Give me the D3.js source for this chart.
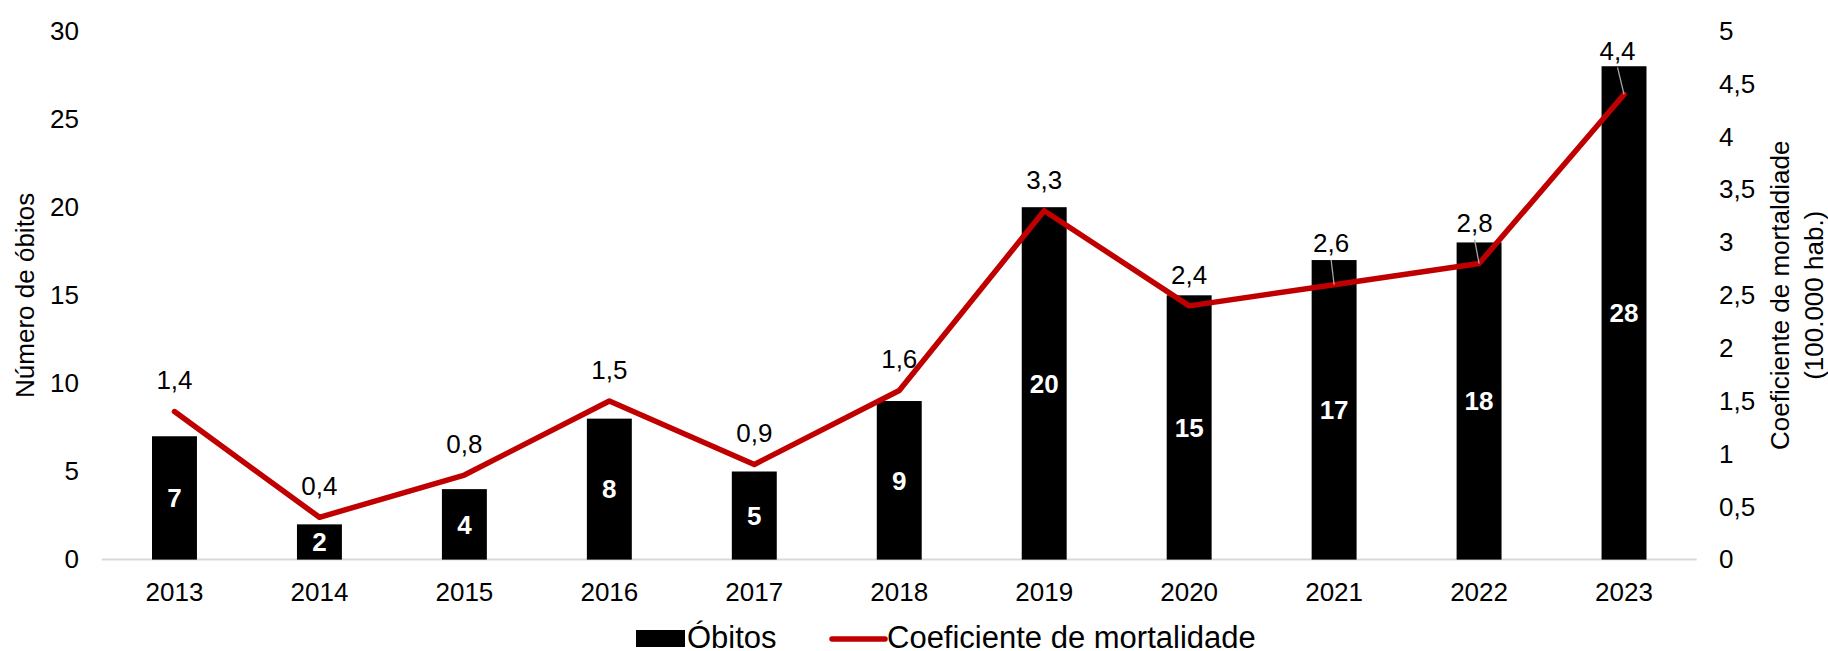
<!DOCTYPE html>
<html>
<head>
<meta charset="utf-8">
<script src="https://cdn.jsdelivr.net/npm/d3@7"></script>
<style>
  html, body { margin: 0; padding: 0; background: #fff; }
  svg { display: block; font-family: "Liberation Sans", Arial, sans-serif; }
</style>
</head>
<body>
<svg id="chart" width="1828" height="651"></svg>
<script>
// ---- data ----
const years = ["2013","2014","2015","2016","2017","2018","2019","2020","2021","2022","2023"];
const obitos = [7, 2, 4, 8, 5, 9, 20, 15, 17, 18, 28];
const coeficiente = [1.4, 0.4, 0.8, 1.5, 0.9, 1.6, 3.3, 2.4, 2.6, 2.8, 4.4];
const leftTicks = [0, 5, 10, 15, 20, 25, 30];
const rightTicks = [0, 0.5, 1, 1.5, 2, 2.5, 3, 3.5, 4, 4.5, 5];
const leftTitle = "Número de óbitos";
const rightTitle = ["Coeficiente de mortaldiade", "(100.000 hab.)"];
const legendLabels = ["Óbitos", "Coeficiente de mortalidade"];

// label placement tweaks (moved labels with leader lines), by year
const movedLabels = { "2021": [-3, -42], "2022": [-4.5, -41], "2023": [-6.5, -44] };

const fmt = v => String(v).replace(".", ",");

const svg = d3.select("#chart");
const x = d3.scaleBand().domain(years).range([102, 1696.5]).paddingInner(0.69).paddingOuter(0.345);
const yL = d3.scaleLinear().domain([0, 30]).range([559.6, 31]);
const yR = d3.scaleLinear().domain([0, 5]).range([559.6, 31]);
const cx = d => x(d) + x.bandwidth() / 2;

// baseline axis line
svg.append("line")
  .attr("x1", 101.7).attr("x2", 1696.7)
  .attr("y1", yL(0)).attr("y2", yL(0))
  .attr("stroke", "#d9d9d9").attr("stroke-width", 2);

// left axis labels
const gL = svg.append("g").attr("transform", "translate(79,0)")
  .call(d3.axisLeft(yL).tickValues(leftTicks).tickSize(0).tickPadding(0).tickFormat(fmt));
gL.select(".domain").remove();
gL.selectAll("text").attr("font-size", 26).attr("fill", "#000").attr("font-family", "Liberation Sans, Arial, sans-serif");

// right axis labels
const gR = svg.append("g").attr("transform", "translate(1719,0)")
  .call(d3.axisRight(yR).tickValues(rightTicks).tickSize(0).tickPadding(0).tickFormat(fmt));
gR.select(".domain").remove();
gR.selectAll("text").attr("font-size", 26).attr("fill", "#000").attr("font-family", "Liberation Sans, Arial, sans-serif");

// x axis labels
const gX = svg.append("g").attr("transform", "translate(0," + 582 + ")")
  .call(d3.axisBottom(x).tickSize(0).tickPadding(0));
gX.select(".domain").remove();
gX.selectAll("text").attr("font-size", 26).attr("fill", "#000").attr("dy", "0.72em")
  .attr("font-family", "Liberation Sans, Arial, sans-serif");

// bars
svg.append("g").selectAll("rect").data(years).join("rect")
  .attr("x", d => x(d))
  .attr("width", x.bandwidth())
  .attr("y", (d, i) => yL(obitos[i]))
  .attr("height", (d, i) => yL(0) - yL(obitos[i]))
  .attr("fill", "#000");

// bar labels
svg.append("g").selectAll("text").data(years).join("text")
  .attr("x", d => cx(d))
  .attr("y", (d, i) => (yL(obitos[i]) + yL(0)) / 2)
  .attr("dy", "0.36em")
  .attr("text-anchor", "middle")
  .attr("font-size", 26).attr("font-weight", "bold").attr("fill", "#fff")
  .text((d, i) => obitos[i]);

// line
const line = d3.line().x((d, i) => cx(years[i])).y(d => yR(d));
svg.append("path").datum(coeficiente)
  .attr("d", line)
  .attr("fill", "none").attr("stroke", "#c00000").attr("stroke-width", 5.5)
  .attr("stroke-linejoin", "round").attr("stroke-linecap", "round");

// line labels + leader lines
const lab = svg.append("g");
years.forEach((yr, i) => {
  const px = cx(yr), py = yR(coeficiente[i]);
  const off = movedLabels[yr] || [0, -31.5];
  const lx = px + off[0], ly = py + off[1];
  if (movedLabels[yr]) {
    lab.append("line")
      .attr("x1", lx).attr("y1", ly + 17)
      .attr("x2", px).attr("y2", py)
      .attr("stroke", "#a6a6a6").attr("stroke-width", 1.3);
  }
  lab.append("text")
    .attr("x", lx).attr("y", ly).attr("dy", "0.36em")
    .attr("text-anchor", "middle").attr("font-size", 26).attr("fill", "#000")
    .text(fmt(coeficiente[i]));
});

// axis titles
svg.append("text")
  .attr("transform", `translate(34,${(yL(0) + yL(30)) / 2}) rotate(-90)`)
  .attr("text-anchor", "middle").attr("font-size", 26).attr("fill", "#000")
  .text(leftTitle);
svg.append("text")
  .attr("transform", `translate(1789,${(yR(0) + yR(5)) / 2}) rotate(-90)`)
  .attr("text-anchor", "middle").attr("font-size", 26).attr("fill", "#000")
  .text(rightTitle[0]);
svg.append("text")
  .attr("transform", `translate(1823,${(yR(0) + yR(5)) / 2}) rotate(-90)`)
  .attr("text-anchor", "middle").attr("font-size", 26).attr("fill", "#000")
  .text(rightTitle[1]);

// legend
const lg = svg.append("g");
lg.append("rect").attr("x", 636).attr("y", 630).attr("width", 49).attr("height", 17).attr("fill", "#000");
lg.append("text").attr("x", 687).attr("y", 648).attr("font-size", 31).attr("fill", "#000").text(legendLabels[0]);
lg.append("line").attr("x1", 832).attr("x2", 885).attr("y1", 639).attr("y2", 639)
  .attr("stroke", "#c00000").attr("stroke-width", 5.5).attr("stroke-linecap", "round");
lg.append("text").attr("x", 887).attr("y", 648).attr("font-size", 31).attr("fill", "#000").text(legendLabels[1]);
</script>
</body>
</html>
